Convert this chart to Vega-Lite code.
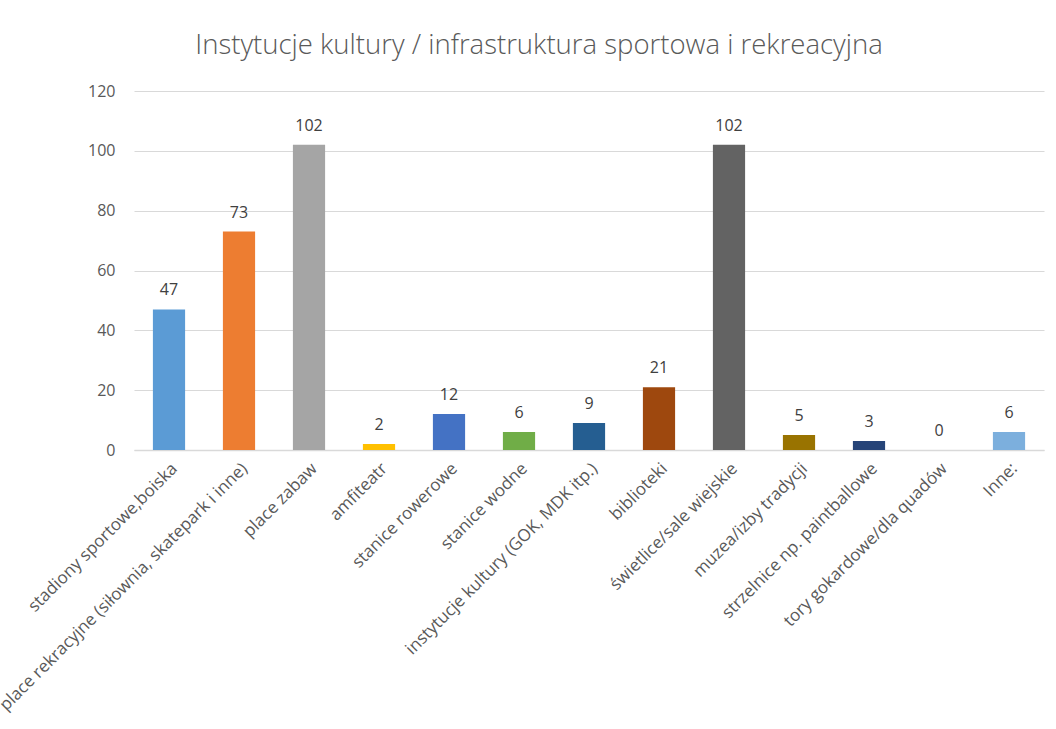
{
  "$schema": "https://vega.github.io/schema/vega-lite/v6.json",
  "autosize": {"type": "none"},
  "width": 910,
  "height": 359,
  "padding": {"left": 134, "top": 91, "right": 12, "bottom": 279},
  "background": "white",
  "title": {
    "text": "Instytucje kultury / infrastruktura sportowa i rekreacyjna",
    "font": "Open Sans",
    "fontWeight": 300,
    "fontSize": 27.5,
    "color": "#595959",
    "anchor": "middle",
    "dx": -50,
    "offset": 24
  },
  "data": {
    "values": [
      {"kategoria": "stadiony sportowe,boiska", "liczba": 47},
      {"kategoria": "place rekracyjne (siłownia, skatepark i inne)", "liczba": 73},
      {"kategoria": "place zabaw", "liczba": 102},
      {"kategoria": "amfiteatr", "liczba": 2},
      {"kategoria": "stanice rowerowe", "liczba": 12},
      {"kategoria": "stanice wodne", "liczba": 6},
      {"kategoria": "instytucje kultury (GOK, MDK itp.)", "liczba": 9},
      {"kategoria": "biblioteki", "liczba": 21},
      {"kategoria": "świetlice/sale wiejskie", "liczba": 102},
      {"kategoria": "muzea/izby tradycji", "liczba": 5},
      {"kategoria": "strzelnice np. paintballowe", "liczba": 3},
      {"kategoria": "tory gokardowe/dla quadów", "liczba": 0},
      {"kategoria": "Inne:", "liczba": 6}
    ]
  },
  "encoding": {
    "x": {
      "field": "kategoria",
      "type": "nominal",
      "sort": null,
      "scale": {"paddingInner": 0.54, "paddingOuter": 0.27},
      "axis": {
        "title": null,
        "labelAngle": -45,
        "labelFont": "Open Sans",
        "labelFontSize": 17,
        "labelColor": "#595959",
        "labelPadding": 10,
        "labelLimit": 800,
        "ticks": false,
        "domainColor": "#d9d9d9",
        "domainWidth": 1.5,
        "grid": false
      }
    },
    "y": {
      "field": "liczba",
      "type": "quantitative",
      "scale": {"domain": [0, 120], "nice": false},
      "axis": {
        "title": null,
        "values": [0, 20, 40, 60, 80, 100, 120],
        "labelFont": "Open Sans",
        "labelFontSize": 16,
        "labelColor": "#595959",
        "labelPadding": 19,
        "ticks": false,
        "domain": false,
        "gridColor": "#d9d9d9",
        "gridWidth": 1
      }
    }
  },
  "layer": [
    {
      "mark": {"type": "bar"},
      "encoding": {
        "color": {
          "field": "kategoria",
          "type": "nominal",
          "sort": null,
          "legend": null,
          "scale": {
            "range": ["#5B9BD5", "#ED7D31", "#A5A5A5", "#FFC000", "#4472C4", "#70AD47", "#255E91", "#9E480E", "#636363", "#997300", "#264478", "#43682B", "#7CAFDD"]
          }
        }
      }
    },
    {
      "mark": {"type": "text", "font": "Open Sans", "fontSize": 16, "color": "#404040", "baseline": "alphabetic", "dy": -14},
      "encoding": {"text": {"field": "liczba", "type": "quantitative"}}
    }
  ],
  "config": {"view": {"stroke": null}}
}
